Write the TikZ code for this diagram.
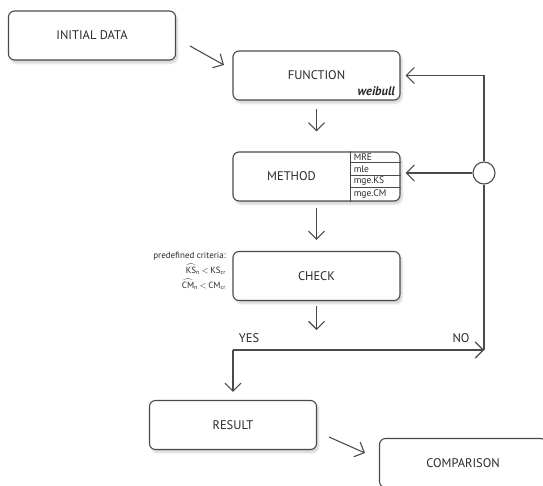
\documentclass[tikz,border=0pt]{standalone}
\usepackage{fontspec}
\usepackage{amsmath}
\setmainfont{PT Sans}
\usetikzlibrary{arrows.meta,shadows.blur,calc}
\definecolor{ln}{HTML}{4A4A4A}
\definecolor{tx}{HTML}{2A2A2A}
\tikzset{
  box/.style={draw=ln, line width=1.1pt, rounded corners=6pt, fill=white,
    minimum width=167pt, minimum height=49pt, inner sep=0pt,
    font=\fontsize{12.5}{14}\selectfont, text=tx,
    blur shadow={shadow xshift=2pt, shadow yshift=-3pt, shadow blur steps=6, shadow opacity=18}},
  arr/.style={draw=ln, line width=1.1pt, -{Straight Barb[length=8pt,width=16pt,line width=1.1pt]}},
  conn/.style={draw=ln, line width=1.1pt},
  small/.style={font=\fontsize{9.5}{11}\selectfont, text=tx, inner sep=0pt},
  lbl/.style={anchor=base, font=\fontsize{12.5}{14}\selectfont, text=tx, inner sep=0pt},
}
\begin{document}
\begin{tikzpicture}[x=1pt,y=-1pt]
\useasboundingbox (0,0) rectangle (543,485);
\node[box] (init) at (92,35.5) {INITIAL DATA};
\node[box] (fn) at (316.5,75.5) {FUNCTION};
\node[anchor=base east, font=\fontsize{12.5}{14}\selectfont\bfseries\itshape, text=tx, inner sep=0pt] (wb) at (395,95) {weibull};
\node[box] (meth) at (316.5,176.5) {\hspace*{-50pt}METHOD};
\node[box] (chk) at (316.5,276) {CHECK};
\node[box] (res) at (233,425) {RESULT};
\node[box] (cmp) at (463,463) {COMPARISON};
\node[draw=ln, line width=1.1pt, circle, fill=white, minimum size=22pt, inner sep=0pt] (circ) at (484,173) {};
% method table
\coordinate (dt) at ($(meth.north east)+(-50,0)$);
\coordinate (db) at ($(meth.south east)+(-50,0)$);
\draw[conn] (dt) -- (db);
\draw[conn, line width=0.8pt] ($(meth.north east)+(-50,11)$) -- ($(meth.north east)+(0,11)$);
\draw[conn, line width=0.8pt] ($(meth.north east)+(-50,24)$) -- ($(meth.north east)+(0,24)$);
\draw[conn, line width=0.8pt] ($(meth.north east)+(-50,36)$) -- ($(meth.north east)+(0,36)$);
\node[small, anchor=west] (t1) at ($(meth.north east)+(-47,5.5)$) {MRE};
\node[small, anchor=west] (t2) at ($(meth.north east)+(-47,17.5)$) {mle};
\node[small, anchor=west] (t3) at ($(meth.north east)+(-47,30)$) {mge.KS};
\node[small, anchor=west] (t4) at ($(meth.north east)+(-47,42.5)$) {mge.CM};
% criteria
\node[small, anchor=base east, font=\fontsize{9}{11}\selectfont] (c1) at (226,258.5) {predefined criteria:};
\node[small, anchor=base east, font=\fontsize{9}{11}\selectfont] (c2) at (226,273.5) {$\smash[t]{\widehat{\text{KS}}}_{\text{n}}\,{<}\,\text{KS}_{\text{cr}}$};
\node[small, anchor=base east, font=\fontsize{9}{11}\selectfont] (c3) at (226,288) {$\smash[t]{\widehat{\text{CM}}}_{\text{n}}\,{<}\,\text{CM}_{\text{cr}}$};
% connectors
\coordinate (a1s) at (190,46);
\coordinate (a1e) at (224,65);
\draw[arr] (a1s) -- (a1e);
\draw[arr, shorten <=8pt, shorten >=20pt] (fn.south) -- (meth.north);
\draw[arr, shorten <=6pt, shorten >=11pt] (meth.south) -- (chk.north);
\draw[arr, shorten <=5pt, shorten >=10pt] (chk.south) -- ++(0,39);
\coordinate (junc) at (233,350);
\coordinate (noend) at (484,350);
\draw[arr, shorten >=5pt] (circ.north) |- (fn.east);
\draw[arr, shorten >=5pt] (circ.west) -- (circ.west -| meth.east);
\draw[conn] (circ.south) -- (noend);
\draw[arr] (junc) -- (noend);
\draw[arr, shorten >=8pt] (junc) -- (res.north);
\node[lbl] (yes) at (249,342) {YES};
\node[lbl] (no) at (461,342) {NO};
\coordinate (a2s) at (329,437);
\coordinate (a2e) at (365,453);
\draw[arr] (a2s) -- (a2e);
\end{tikzpicture}
\end{document}
